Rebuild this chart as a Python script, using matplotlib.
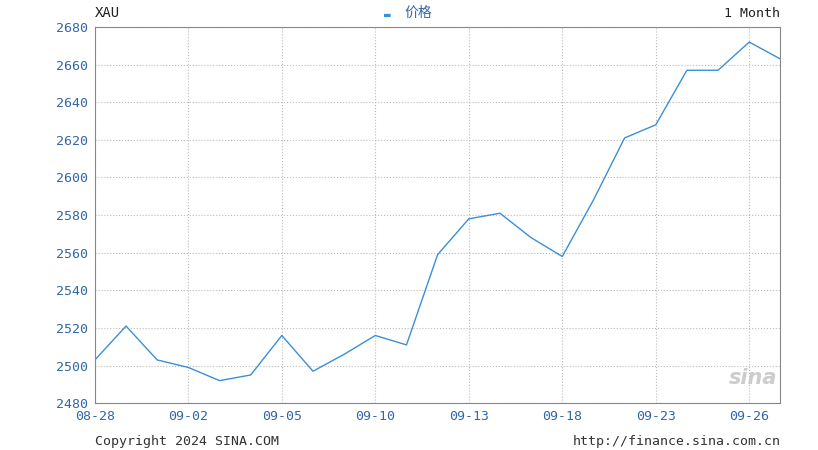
import matplotlib.pyplot as plt

plt.rcParams['font.family'] = ['DejaVu Sans Mono', 'Noto Sans CJK SC']

dates = ['08-28', '08-29', '08-30', '09-02', '09-03', '09-04', '09-05', '09-06',
         '09-09', '09-10', '09-11', '09-12', '09-13', '09-16', '09-17', '09-18',
         '09-19', '09-20', '09-23', '09-24', '09-25', '09-26', '09-27']
prices = [2503, 2521, 2503, 2499, 2492, 2495, 2516, 2497, 2506, 2516, 2511, 2559,
          2578, 2581, 2568, 2558, 2588, 2621, 2628, 2657, 2657, 2672, 2663]
yticks = list(range(2480, 2681, 20))

blue = '#3a8fd8'
lab = '#3366aa'

fig = plt.figure(figsize=(8.18, 4.5), dpi=100)
ax = fig.add_axes([0.116, 0.104, 0.838, 0.836])
x = list(range(len(prices)))
ax.plot(x, prices, color=blue, linewidth=1)
ax.set_xlim(0, len(prices) - 1)
ax.set_ylim(2480, 2680)
ax.set_yticks(yticks)
ax.set_yticklabels([str(v) for v in yticks], color=lab, fontsize=9.5)
xt = list(range(0, len(prices), 3))
ax.set_xticks(xt)
ax.set_xticklabels([dates[i] for i in xt], color=lab, fontsize=9.5)
ax.tick_params(length=0, pad=5)
ax.grid(True, color='#bbbbbb', linestyle=':', linewidth=0.8)
for s in ax.spines.values():
    s.set_color('#888888')
    s.set_linewidth(0.8)

fig.text(0.116, 0.955, 'XAU', fontsize=10, color='#222222', va='bottom')
fig.text(0.47, 0.955, '▬', fontsize=8, color=blue, va='bottom')
fig.text(0.495, 0.955, '价格', fontsize=10, color=lab, va='bottom')
fig.text(0.954, 0.955, '1 Month', fontsize=9.5, color='#222222', va='bottom', ha='right')
fig.text(0.116, 0.01, 'Copyright 2024 SINA.COM', fontsize=9.5, color='#333333')
fig.text(0.954, 0.01, 'http://finance.sina.com.cn', fontsize=9.5, color='#333333', ha='right')
ax.text(0.995, 0.05, 'sina', transform=ax.transAxes, fontsize=15, color='#cccccc',
        ha='right', style='italic', weight='bold', family='DejaVu Sans')

fig.savefig('out.png', dpi=100)
